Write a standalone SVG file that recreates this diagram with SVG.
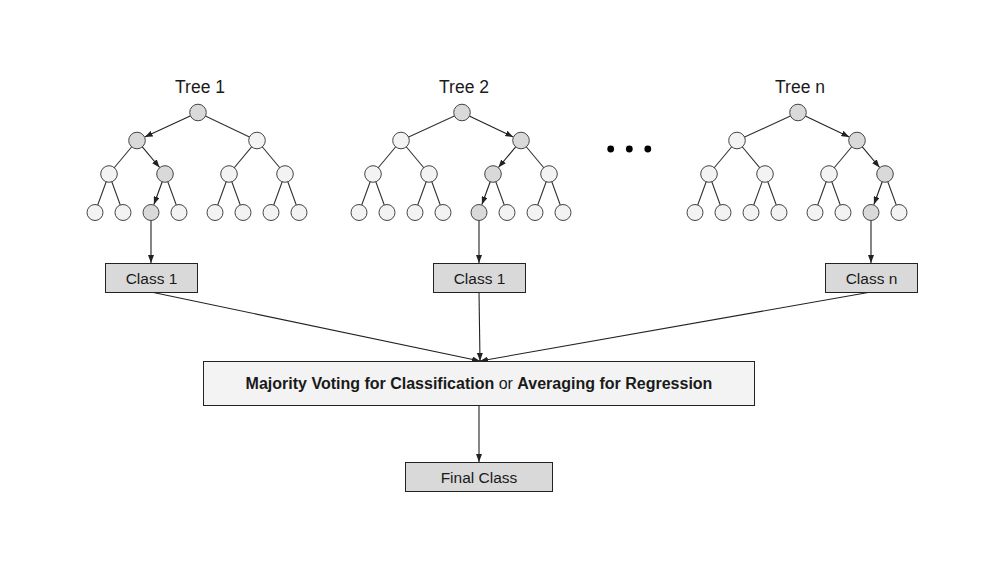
<svg xmlns="http://www.w3.org/2000/svg" width="1004" height="564" viewBox="0 0 1004 564">
<defs>
<marker id="ah" markerUnits="userSpaceOnUse" markerWidth="8" markerHeight="6" refX="8" refY="3" orient="auto">
<path d="M0,0 L8,3 L0,6 z" fill="#222"/>
</marker>
<style>
.e{stroke:#333;stroke-width:1.1;fill:none}
.a{stroke:#222;stroke-width:1.1;fill:none;marker-end:url(#ah)}
.n{fill:#f3f3f3;stroke:#444;stroke-width:1}
.h{fill:#d9d9d9;stroke:#444;stroke-width:1}
.box{fill:#d9d9d9;stroke:#222;stroke-width:1}
.mbox{fill:#f3f3f3;stroke:#222;stroke-width:1}
.t{font-family:"Liberation Sans",Arial,sans-serif;fill:#1a1a1a;text-anchor:middle}
</style>
</defs>
<rect width="1004" height="564" fill="#ffffff"/>

<g id="connectors">
<!-- tree 1 edges -->
<path class="e" d="M198,112.5L257,140.5 M137,140.5L109,174 M257,140.5L229,174 M257,140.5L285,174 M109,174L95,212.5 M109,174L123,212.5 M165,174L179,212.5 M229,174L215,212.5 M229,174L243,212.5 M285,174L271,212.5 M285,174L299,212.5"/>
<line class="a" x1="190.7" y1="115.8" x2="144.7" y2="137"/>
<line class="a" x1="142.1" y1="146.6" x2="159.6" y2="167.5"/>
<line class="a" x1="162.3" y1="181.5" x2="153.9" y2="204.5"/>
<!-- tree 2 edges -->
<path class="e" d="M462,112.5L401,140.5 M401,140.5L373,174 M401,140.5L429,174 M521,140.5L549,174 M373,174L359,212.5 M373,174L387,212.5 M429,174L415,212.5 M429,174L443,212.5 M493,174L507,212.5 M549,174L535,212.5 M549,174L563,212.5"/>
<line class="a" x1="469.2" y1="115.9" x2="513.3" y2="136.9"/>
<line class="a" x1="515.9" y1="146.6" x2="498.4" y2="167.5"/>
<line class="a" x1="490.3" y1="181.5" x2="481.9" y2="204.5"/>
<!-- tree n edges -->
<path class="e" d="M798,112.5L737,140.5 M737,140.5L709,174 M737,140.5L765,174 M857,140.5L829,174 M709,174L695,212.5 M709,174L723,212.5 M765,174L751,212.5 M765,174L779,212.5 M829,174L815,212.5 M829,174L843,212.5 M885,174L899,212.5"/>
<line class="a" x1="805.2" y1="115.9" x2="849.3" y2="136.9"/>
<line class="a" x1="862.1" y1="146.6" x2="879.6" y2="167.5"/>
<line class="a" x1="882.3" y1="181.5" x2="873.9" y2="204.5"/>
<!-- leaf to class -->
<line class="a" x1="151" y1="220.5" x2="151" y2="263"/>
<line class="a" x1="479" y1="220.5" x2="479" y2="263"/>
<line class="a" x1="871" y1="220.5" x2="871" y2="263"/>
<!-- class to aggregate -->
<line class="a" x1="151" y1="292" x2="480" y2="361"/>
<line class="a" x1="479" y1="292" x2="480" y2="361"/>
<line class="a" x1="871" y1="292" x2="480" y2="361"/>
<!-- aggregate to final -->
<line class="a" x1="479" y1="405" x2="479" y2="462"/>
</g>

<g id="tree1">
<text class="t" x="200" y="93" font-size="17.5">Tree 1</text>
<circle class="h" cx="198" cy="112.5" r="8.3"/>
<circle class="h" cx="137" cy="140.5" r="8.3"/>
<circle class="n" cx="257" cy="140.5" r="8.3"/>
<circle class="n" cx="109" cy="174" r="8.3"/>
<circle class="h" cx="165" cy="174" r="8.3"/>
<circle class="n" cx="229" cy="174" r="8.3"/>
<circle class="n" cx="285" cy="174" r="8.3"/>
<circle class="n" cx="95" cy="212.5" r="8"/>
<circle class="n" cx="123" cy="212.5" r="8"/>
<circle class="h" cx="151" cy="212.5" r="8"/>
<circle class="n" cx="179" cy="212.5" r="8"/>
<circle class="n" cx="215" cy="212.5" r="8"/>
<circle class="n" cx="243" cy="212.5" r="8"/>
<circle class="n" cx="271" cy="212.5" r="8"/>
<circle class="n" cx="299" cy="212.5" r="8"/>
</g>

<g id="tree2">
<text class="t" x="464" y="93" font-size="17.5">Tree 2</text>
<circle class="h" cx="462" cy="112.5" r="8.3"/>
<circle class="n" cx="401" cy="140.5" r="8.3"/>
<circle class="h" cx="521" cy="140.5" r="8.3"/>
<circle class="n" cx="373" cy="174" r="8.3"/>
<circle class="n" cx="429" cy="174" r="8.3"/>
<circle class="h" cx="493" cy="174" r="8.3"/>
<circle class="n" cx="549" cy="174" r="8.3"/>
<circle class="n" cx="359" cy="212.5" r="8"/>
<circle class="n" cx="387" cy="212.5" r="8"/>
<circle class="n" cx="415" cy="212.5" r="8"/>
<circle class="n" cx="443" cy="212.5" r="8"/>
<circle class="h" cx="479" cy="212.5" r="8"/>
<circle class="n" cx="507" cy="212.5" r="8"/>
<circle class="n" cx="535" cy="212.5" r="8"/>
<circle class="n" cx="563" cy="212.5" r="8"/>
</g>

<g id="ellipsis">
<circle cx="610.7" cy="149" r="3.4" fill="#000"/>
<circle cx="629.3" cy="149" r="3.4" fill="#000"/>
<circle cx="647.8" cy="149" r="3.4" fill="#000"/>
</g>

<g id="treen">
<text class="t" x="800" y="93" font-size="17.5">Tree n</text>
<circle class="h" cx="798" cy="112.5" r="8.3"/>
<circle class="n" cx="737" cy="140.5" r="8.3"/>
<circle class="h" cx="857" cy="140.5" r="8.3"/>
<circle class="n" cx="709" cy="174" r="8.3"/>
<circle class="n" cx="765" cy="174" r="8.3"/>
<circle class="n" cx="829" cy="174" r="8.3"/>
<circle class="h" cx="885" cy="174" r="8.3"/>
<circle class="n" cx="695" cy="212.5" r="8"/>
<circle class="n" cx="723" cy="212.5" r="8"/>
<circle class="n" cx="751" cy="212.5" r="8"/>
<circle class="n" cx="779" cy="212.5" r="8"/>
<circle class="n" cx="815" cy="212.5" r="8"/>
<circle class="n" cx="843" cy="212.5" r="8"/>
<circle class="h" cx="871" cy="212.5" r="8"/>
<circle class="n" cx="899" cy="212.5" r="8"/>
</g>

<g id="class1a">
<rect class="box" x="105.5" y="263.5" width="92" height="29"/>
<text class="t" x="151.5" y="284" font-size="15.5">Class 1</text>
</g>
<g id="class1b">
<rect class="box" x="433.5" y="263.5" width="92" height="29"/>
<text class="t" x="479.5" y="284" font-size="15.5">Class 1</text>
</g>
<g id="classn">
<rect class="box" x="825.5" y="263.5" width="92" height="29"/>
<text class="t" x="871.5" y="284" font-size="15.5">Class n</text>
</g>

<g id="aggregate">
<rect class="mbox" x="203.5" y="361.5" width="551" height="44"/>
<text class="t" x="479" y="388.8" font-size="16"><tspan font-weight="bold">Majority Voting for Classification</tspan> or <tspan font-weight="bold">Averaging for Regression</tspan></text>
</g>

<g id="final">
<rect class="box" x="405.5" y="462.5" width="147" height="29"/>
<text class="t" x="479" y="483" font-size="15.5">Final Class</text>
</g>
</svg>
